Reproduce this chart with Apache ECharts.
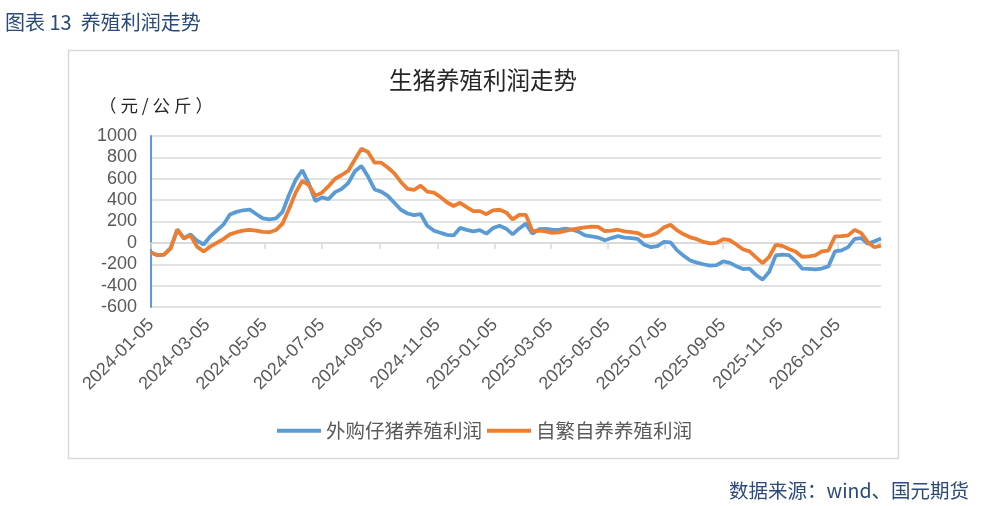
<!DOCTYPE html>
<html><head><meta charset="utf-8">
<script src="https://cdn.jsdelivr.net/npm/echarts@6/dist/echarts.min.js"></script>
<style>html,body{margin:0;padding:0;background:#fff}#c{width:982px;height:506px}</style>
</head><body><div id="c"></div>
<script>
// weekly observations starting on this date
const weekStart = [2024, 0, 5];
const tickLabels = ['2024-01-05','2024-03-05','2024-05-05','2024-07-05','2024-09-05','2024-11-05',
  '2025-01-05','2025-03-05','2025-05-05','2025-07-05','2025-09-05','2025-11-05','2026-01-05'];
const seriesNames = ['外购仔猪养殖利润', '自繁自养养殖利润'];
const buyPiglet = [
  -90,-115,-110,-50,125,45,80,20,-15,60,
  115,170,265,290,305,312,270,230,220,230,
  290,450,590,680,555,390,425,410,475,505,
  560,670,720,620,500,480,440,375,310,275,
  260,270,160,115,95,75,70,140,122,108,
  120,86,138,160,133,80,135,180,85,128,
  131,123,122,134,125,105,70,60,50,25,
  45,64,50,44,38,-18,-40,-30,9,5,
  -70,-120,-165,-185,-200,-213,-209,-172,-187,-218,
  -245,-240,-300,-344,-270,-117,-109,-115,-170,-240,
  -244,-248,-240,-220,-80,-70,-40,37,44,-9,
  16,40
];
const selfBreed = [
  -90,-115,-110,-50,125,40,70,-35,-80,-35,
  0,35,80,100,115,122,115,103,100,120,
  180,320,470,580,540,440,470,530,600,635,
  675,780,880,850,750,750,705,650,570,505,
  495,535,480,470,430,380,345,375,335,298,
  297,268,305,310,285,220,262,262,110,115,
  107,93,98,112,125,135,145,152,150,110,
  115,123,108,100,92,60,70,95,145,170,
  117,80,52,35,9,-4,0,34,25,-15,
  -60,-80,-135,-190,-130,-18,-28,-58,-80,-130,
  -127,-118,-80,-72,60,63,70,122,91,6,
  -41,-25
];

const DAY = 864e5;
const fmt = t => new Date(t).toISOString().slice(0, 10);
const t0 = Date.UTC(weekStart[0], weekStart[1], weekStart[2]);
const weeks = buyPiglet.map((_, i) => fmt(t0 + i * 7 * DAY));
const tLast = t0 + (buyPiglet.length - 1) * 7 * DAY;
const days = [];
for (let t = t0; t <= tLast; t += DAY) days.push(fmt(t));
const tickSet = new Set(tickLabels);
const isTick = (i, v) => tickSet.has(v);

const navy = '#2a4a7b';
const chart = echarts.init(document.getElementById('c'), null, {renderer: 'canvas'});
chart.setOption({
  backgroundColor: '#ffffff',
  animation: false,
  grid: {left: 151, right: 101, top: 136, bottom: 199},
  legend: {
    data: seriesNames, top: 416, left: 272, icon: 'rect',
    itemWidth: 44, itemHeight: 4, itemGap: 5,
    textStyle: {fontSize: 19.5, color: '#595959', fontFamily: 'Noto Sans CJK SC'}
  },
  xAxis: [
    {
      type: 'category', data: days, boundaryGap: false,
      axisLine: {onZero: true, lineStyle: {color: '#d9d9d9', width: 1.5}},
      axisTick: {show: true, interval: isTick, length: 6, lineStyle: {color: '#d9d9d9', width: 1.5}},
      axisLabel: {show: false}, splitLine: {show: false}
    },
    {
      type: 'category', data: days, boundaryGap: false, position: 'bottom',
      axisLine: {show: false, onZero: false}, axisTick: {show: false}, splitLine: {show: false},
      axisLabel: {interval: isTick, rotate: 45, margin: 15, fontSize: 18, color: '#595959',
        fontFamily: 'Liberation Sans'}
    }
  ],
  yAxis: {
    type: 'value', min: -600, max: 1000, interval: 200,
    axisLine: {show: true, lineStyle: {color: '#5b9bd5', width: 2}},
    axisTick: {show: false},
    splitLine: {lineStyle: {color: '#d9d9d9', width: 1.5}},
    axisLabel: {fontSize: 18, color: '#595959', margin: 14, fontFamily: 'Liberation Sans',
      formatter: v => String(v)}
  },
  series: [
    {name: seriesNames[0], type: 'line', xAxisIndex: 0, showSymbol: false, symbol: 'none',
     lineStyle: {width: 3.8, color: '#5b9bd5'}, itemStyle: {color: '#5b9bd5'},
     data: weeks.map((d, i) => [d, buyPiglet[i]])},
    {name: seriesNames[1], type: 'line', xAxisIndex: 0, showSymbol: false, symbol: 'none',
     lineStyle: {width: 3.8, color: '#ed7d31'}, itemStyle: {color: '#ed7d31'},
     data: weeks.map((d, i) => [d, selfBreed[i]])}
  ],
  graphic: [
    {type: 'rect', shape: {x: 68.5, y: 50.5, width: 830, height: 408}, silent: true,
     style: {fill: 'none', stroke: '#d9d9d9', lineWidth: 1.5}},
    {type: 'text', x: 5, y: 22, style: {text: '图表 13  养殖利润走势', fill: navy, fontSize: 20,
     fontFamily: 'Noto Sans CJK SC', verticalAlign: 'middle'}},
    {type: 'text', x: 483, y: 80, style: {text: '生猪养殖利润走势', fill: '#262626', fontSize: 23.5,
     fontFamily: 'Noto Sans CJK SC', align: 'center', verticalAlign: 'middle'}},
    {type: 'text', x: 99, y: 105, style: {text: '（ 元 / 公 斤 ）', fill: '#262626', fontSize: 17.5,
     fontFamily: 'Noto Sans CJK SC', verticalAlign: 'middle'}},
    {type: 'text', x: 969, y: 491, style: {text: '数据来源：wind、国元期货', fill: navy, fontSize: 19.5,
     fontFamily: 'Noto Sans CJK SC', align: 'right', verticalAlign: 'middle'}}
  ]
});
</script></body></html>
